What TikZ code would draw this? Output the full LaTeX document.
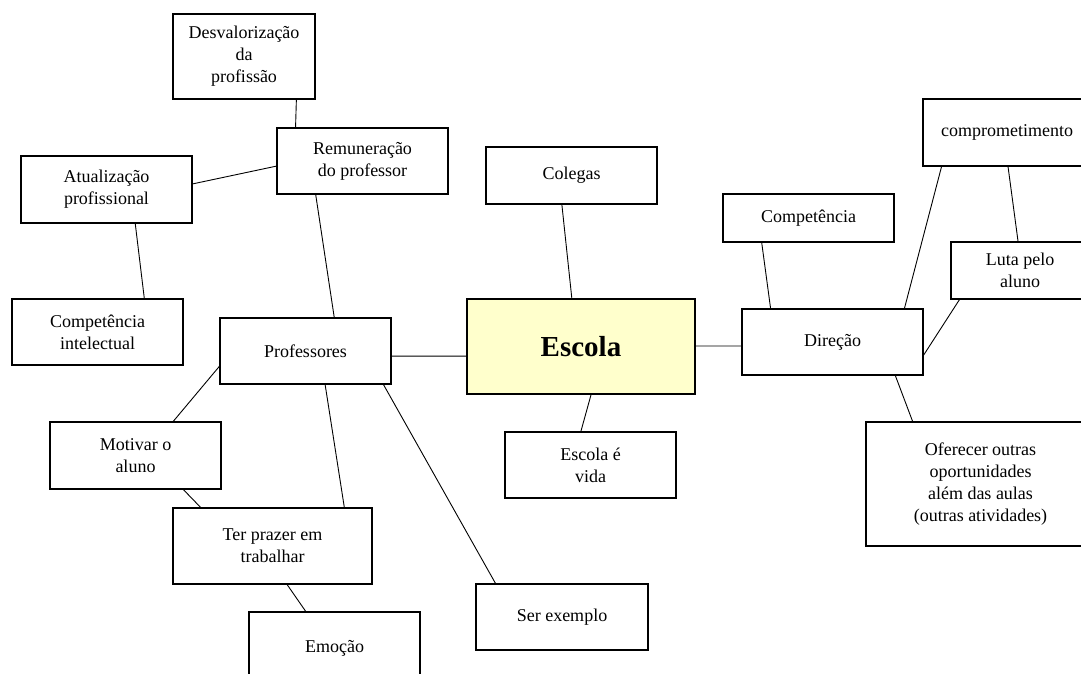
\documentclass[tikz,border=0pt]{standalone}
\usepackage{fontspec}
\setmainfont{Liberation Serif}
\usetikzlibrary{calc}

\tikzset{
  conbox/.style={draw=black, line width=1.1pt, fill=white, inner sep=0pt,
    align=center, font=\fontsize{18}{22}\selectfont},
  hubbox/.style={conbox, fill=hubfill, font=\fontsize{29}{34}\selectfont\bfseries},
  link/.style={line width=0.9pt, black}
}
\definecolor{hubfill}{RGB}{255,255,204}

% box with corners (x1,y1) and (x2,y2), y measured downward
\newcommand{\mapbox}[7][conbox]{%
  \pgfmathsetmacro{\bw}{#5-#3}\pgfmathsetmacro{\bh}{#6-#4}%
  \pgfmathsetmacro{\cx}{(#3+#5)/2}\pgfmathsetmacro{\cy}{(#4+#6)/2}%
  \node[#1, minimum width=\bw pt, minimum height=\bh pt] (#2) at (\cx,\cy) {#7};}

\begin{document}
\begin{tikzpicture}[x=1pt, y=-1pt]
\useasboundingbox (0,0) rectangle (1081,673);
\clip (0,0) rectangle (1081,673);

% boxes
\mapbox{desv}{173}{14}{315}{99}{Desvalorização\\da\\profissão}
\mapbox{remu}{277}{128}{448}{194}{Remuneração\\do professor}
\mapbox{atua}{21}{156}{192}{223}{Atualização\\profissional}
\mapbox{cint}{12}{299}{183}{365}{Competência\\intelectual}
\mapbox{prof}{220}{318}{391}{384}{Professores}
\mapbox[hubbox]{escola}{467}{299}{695}{394}{Escola}
\mapbox{coleg}{486}{147}{657}{204}{Colegas}
\mapbox{comp}{723}{194}{894}{242}{Competência}
\mapbox{dir}{742}{309}{923}{375}{Direção}
\mapbox{compr}{923}{99}{1091}{166}{comprometimento}
\mapbox{luta}{951}{242}{1089}{299}{Luta pelo\\aluno}
\mapbox{ofer}{866}{422}{1095}{546}{Oferecer outras\\oportunidades\\além das aulas\\(outras atividades)}
\mapbox{motiv}{50}{422}{221}{489}{Motivar o\\aluno}
\mapbox{ter}{173}{508}{372}{584}{Ter prazer em\\trabalhar}
\mapbox{emo}{249}{612}{420}{684}{Emoção}
\mapbox{ser}{476}{584}{648}{650}{Ser exemplo}
\mapbox{vida}{505}{432}{676}{498}{Escola é\\vida}

% connectors
\draw[link] ($(desv.south west)!.866!(desv.south east)$) -- ($(remu.north west)!.111!(remu.north east)$);
\draw[link] ($(atua.north east)!.418!(atua.south east)$) -- ($(remu.north west)!.576!(remu.south west)$);
\draw[link] ($(atua.south west)!.667!(atua.south east)$) -- ($(cint.north west)!.772!(cint.north east)$);
\draw[link] ($(remu.south west)!.228!(remu.south east)$) -- ($(prof.north west)!.667!(prof.north east)$);
\draw[link] ($(prof.north east)!.576!(prof.south east)$) -- ($(escola.north west)!.6!(escola.south west)$);
\draw[link] ($(coleg.south west)!.444!(coleg.south east)$) -- ($(escola.north west)!.46!(escola.north east)$);
\draw[link] ($(escola.south west)!.544!(escola.south east)$) -- ($(vida.north west)!.444!(vida.north east)$);
\draw[link] ($(escola.north east)!.495!(escola.south east)$) -- ($(dir.north west)!.56!(dir.south west)$);
\draw[link] ($(comp.south west)!.228!(comp.south east)$) -- ($(dir.north west)!.16!(dir.north east)$);
\draw[link] ($(compr.south west)!.113!(compr.south east)$) -- ($(dir.north west)!.895!(dir.north east)$);
\draw[link] ($(compr.south west)!.506!(compr.south east)$) -- ($(luta.north west)!.486!(luta.north east)$);
\draw[link] ($(luta.south west)!.065!(luta.south east)$) -- ($(dir.north east)!.697!(dir.south east)$);
\draw[link] ($(dir.south west)!.845!(dir.south east)$) -- ($(ofer.north west)!.205!(ofer.north east)$);
\draw[link] ($(prof.north west)!.727!(prof.south west)$) -- ($(motiv.north west)!.719!(motiv.north east)$);
\draw[link] ($(motiv.south west)!.778!(motiv.south east)$) -- ($(ter.north west)!.141!(ter.north east)$);
\draw[link] ($(prof.south west)!.614!(prof.south east)$) -- ($(ter.north west)!.859!(ter.north east)$);
\draw[link] ($(prof.south west)!.953!(prof.south east)$) -- ($(ser.north west)!.116!(ser.north east)$);
\draw[link] ($(ter.south west)!.573!(ter.south east)$) -- ($(emo.north west)!.333!(emo.north east)$);
\end{tikzpicture}
\end{document}
